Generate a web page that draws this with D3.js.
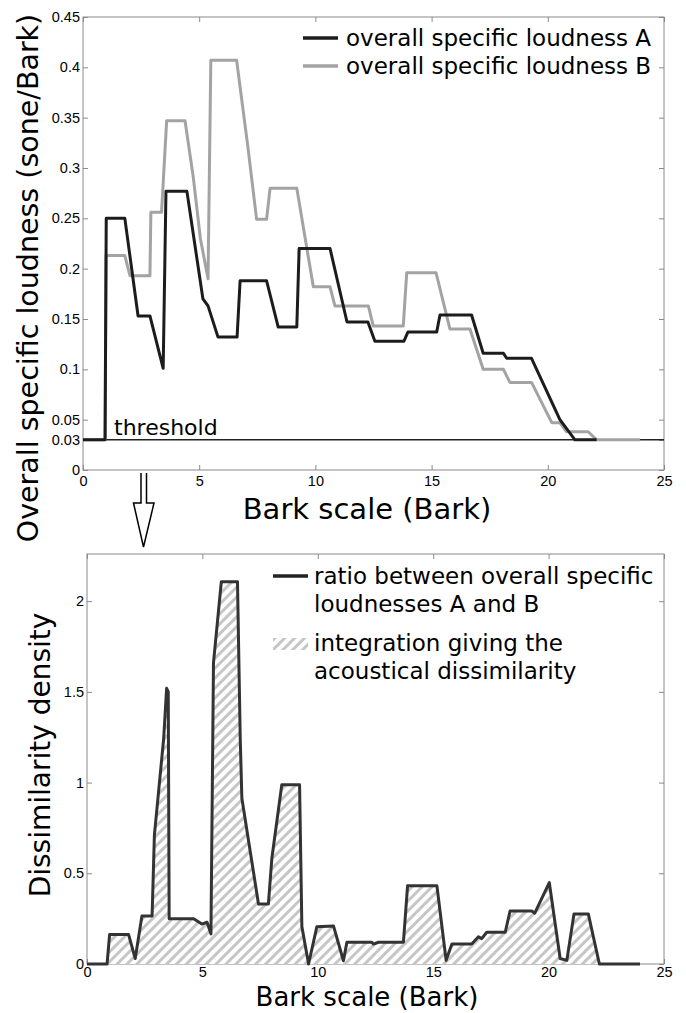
<!DOCTYPE html>
<html>
<head>
<meta charset="utf-8">
<script src="https://cdn.jsdelivr.net/npm/d3@7"></script>
<style>
  body { margin: 0; background: #fff; }
  svg { display: block; }
</style>
</head>
<body>
<div id="chart"></div>
<script>
// overall specific loudness A and B (sone/Bark) against Bark
const barkA = [0, 0.95, 1.0, 1.8, 2.37, 2.88, 3.45, 3.57, 4.47, 5.16, 5.38, 5.81, 6.63, 6.76, 7.9, 8.4, 9.2, 9.3, 10.63, 11.36, 12.26, 12.56, 13.81, 13.98, 15.22, 15.36, 16.72, 17.22, 18.09, 18.23, 19.3, 20.52, 21.17, 22.1];
const loudA = [0.03, 0.03, 0.25, 0.25, 0.153, 0.153, 0.101, 0.277, 0.277, 0.17, 0.163, 0.132, 0.132, 0.188, 0.188, 0.142, 0.142, 0.22, 0.22, 0.147, 0.147, 0.128, 0.128, 0.137, 0.137, 0.154, 0.154, 0.116, 0.116, 0.111, 0.111, 0.05, 0.03, 0.03];

const barkB = [0, 0.95, 0.99, 1.8, 2.02, 2.88, 2.92, 3.38, 3.6, 4.39, 4.75, 5.05, 5.38, 5.5, 6.61, 7.1, 7.47, 7.9, 8.05, 9.2, 9.91, 10.63, 10.84, 12.28, 12.49, 13.78, 13.93, 15.19, 15.79, 16.65, 17.22, 18.09, 18.37, 19.3, 20.17, 20.52, 20.81, 21.74, 22.1, 23.97];
const loudB = [0.03, 0.03, 0.213, 0.213, 0.193, 0.193, 0.256, 0.256, 0.347, 0.347, 0.29, 0.23, 0.19, 0.407, 0.407, 0.32, 0.249, 0.249, 0.28, 0.28, 0.182, 0.182, 0.163, 0.163, 0.143, 0.143, 0.196, 0.196, 0.14, 0.14, 0.1, 0.1, 0.087, 0.087, 0.047, 0.047, 0.038, 0.038, 0.03, 0.03];

const threshold = 0.03;

// dissimilarity density (ratio A/B)
const barkR = [0, 0.87, 0.98, 1.8, 2.09, 2.38, 2.82, 2.92, 3.32, 3.45, 3.52, 3.56, 4.62, 4.98, 5.2, 5.37, 5.48, 5.82, 6.52, 6.64, 6.71, 7.43, 7.86, 8.01, 8.44, 9.21, 9.31, 9.6, 9.96, 10.68, 11.11, 11.26, 12.34, 12.41, 12.63, 13.71, 13.89, 15.16, 15.56, 15.81, 16.67, 16.96, 17.1, 17.32, 18.12, 18.33, 19.27, 19.4, 20.03, 20.5, 20.79, 21.1, 21.72, 22.2, 23.96];
const dens = [0, 0, 0.163, 0.163, 0.03, 0.265, 0.265, 0.71, 1.24, 1.52, 1.5, 0.25, 0.25, 0.22, 0.23, 0.166, 1.66, 2.107, 2.107, 1.24, 0.914, 0.331, 0.331, 0.583, 0.988, 0.988, 0.206, 0, 0.206, 0.21, 0.018, 0.12, 0.12, 0.11, 0.12, 0.12, 0.432, 0.432, 0.02, 0.11, 0.11, 0.15, 0.14, 0.175, 0.175, 0.292, 0.292, 0.28, 0.449, 0.03, 0.02, 0.276, 0.276, 0, 0];

const xTicks = [0, 5, 10, 15, 20, 25];
const yTicksTop = [0, 0.03, 0.05, 0.1, 0.15, 0.2, 0.25, 0.3, 0.35, 0.4, 0.45];
const yTicksBottom = [0, 0.5, 1, 1.5, 2];

const W = 686, H = 1013;
const svg = d3.select("#chart").append("svg")
  .attr("width", W)
  .attr("height", H);

const defs = svg.append("defs");
const pat = defs.append("pattern")
  .attr("id", "hatch")
  .attr("patternUnits", "userSpaceOnUse")
  .attr("width", 7)
  .attr("height", 7)
  .attr("patternTransform", "rotate(45)");
pat.append("rect").attr("width", 7).attr("height", 7).attr("fill", "#fff");
pat.append("rect").attr("width", 3).attr("height", 7).attr("fill", "#c6c6c6");

const tickFont = "'Liberation Sans', Arial, sans-serif";
const labelFont = "'DejaVu Sans', sans-serif";

function frame(g, x, y, yTicks, yFmt, xPad) {
  const [x0, x1] = x.range();
  const [y0, y1] = y.range();
  g.append("rect")
    .attr("x", x0).attr("y", y1)
    .attr("width", x1 - x0).attr("height", y0 - y1)
    .attr("fill", "none").attr("stroke", "#8a8a8a").attr("stroke-width", 1);

  const bottom = g.append("g").attr("transform", "translate(0," + y0 + ")")
    .call(d3.axisBottom(x).tickValues(xTicks).tickSize(-5).tickPadding(xPad));
  const top = g.append("g").attr("transform", "translate(0," + y1 + ")")
    .call(d3.axisTop(x).tickValues(xTicks).tickSize(-5).tickFormat(""));
  const left = g.append("g").attr("transform", "translate(" + x0 + ",0)")
    .call(d3.axisLeft(y).tickValues(yTicks).tickSize(-5).tickPadding(3).tickFormat(yFmt));
  const right = g.append("g").attr("transform", "translate(" + x1 + ",0)")
    .call(d3.axisRight(y).tickValues(yTicks).tickSize(-5).tickFormat(""));

  [bottom, top, left, right].forEach(a => {
    a.select(".domain").remove();
    a.selectAll("line").attr("stroke", "#8a8a8a");
    a.selectAll("text")
      .attr("fill", "#000")
      .style("font-family", tickFont)
      .style("font-size", "14.5px");
  });
}

// ---------- top chart ----------
const xTop = d3.scaleLinear().domain([0, 25]).range([83, 664]);
const yTop = d3.scaleLinear().domain([0, 0.45]).range([470, 17]);
const gTop = svg.append("g");

frame(gTop, xTop, yTop, yTicksTop, d => d === 0 ? "0" : String(d), 6);

gTop.append("line")
  .attr("x1", xTop(0)).attr("x2", xTop(25))
  .attr("y1", yTop(threshold)).attr("y2", yTop(threshold))
  .attr("stroke", "#222").attr("stroke-width", 1.6);

gTop.append("text")
  .attr("x", 114).attr("y", yTop(threshold) - 5)
  .style("font-family", labelFont).style("font-size", "22px")
  .text("threshold");

const lineTop = d3.line().x(d => xTop(d[0])).y(d => yTop(d[1]));

gTop.append("path")
  .datum(d3.zip(barkB, loudB))
  .attr("d", lineTop)
  .attr("fill", "none").attr("stroke", "#a3a3a3").attr("stroke-width", 3)
  .attr("stroke-linejoin", "round");

gTop.append("path")
  .datum(d3.zip(barkA, loudA))
  .attr("d", lineTop)
  .attr("fill", "none").attr("stroke", "#1c1c1c").attr("stroke-width", 3)
  .attr("stroke-linejoin", "round");

// legend
const legTop = gTop.append("g").style("font-family", labelFont).style("font-size", "23px");
[["overall specific loudness A", "#1c1c1c", 38], ["overall specific loudness B", "#a3a3a3", 66]].forEach(l => {
  legTop.append("line").attr("x1", 303).attr("x2", 338).attr("y1", l[2]).attr("y2", l[2])
    .attr("stroke", l[1]).attr("stroke-width", 3.5);
  legTop.append("text").attr("x", 346).attr("y", l[2] + 8).text(l[0]);
});

svg.append("text")
  .attr("x", 367).attr("y", 519)
  .attr("text-anchor", "middle")
  .style("font-family", labelFont).style("font-size", "29px")
  .text("Bark scale (Bark)");

svg.append("text")
  .attr("transform", "translate(38,278) rotate(-90)")
  .attr("text-anchor", "middle")
  .style("font-family", labelFont).style("font-size", "28.5px")
  .text("Overall specific loudness (sone/Bark)");

// arrow between the charts
svg.append("path")
  .attr("d", "M141,473 L141,503 L133.5,503 L143.5,547 L154,503 L146.5,503 L146.5,473")
  .attr("fill", "#fff").attr("stroke", "#000").attr("stroke-width", 1.5)
  .attr("stroke-linejoin", "miter");

// ---------- bottom chart ----------
const xBot = d3.scaleLinear().domain([0, 25]).range([87, 664]);
const yBot = d3.scaleLinear().domain([0, 2.26]).range([964, 554]);
const gBot = svg.append("g");

frame(gBot, xBot, yBot, yTicksBottom, d => String(d), 3);

const ratio = d3.zip(barkR, dens);
gBot.append("path")
  .datum(ratio)
  .attr("d", d3.area().x(d => xBot(d[0])).y0(yBot(0)).y1(d => yBot(d[1])))
  .attr("fill", "url(#hatch)");

gBot.append("path")
  .datum(ratio)
  .attr("d", d3.line().x(d => xBot(d[0])).y(d => yBot(d[1])))
  .attr("fill", "none").attr("stroke", "#333").attr("stroke-width", 3)
  .attr("stroke-linejoin", "round");

const legBot = gBot.append("g").style("font-family", labelFont).style("font-size", "23px");
legBot.append("line").attr("x1", 273).attr("x2", 308).attr("y1", 576).attr("y2", 576)
  .attr("stroke", "#222").attr("stroke-width", 3.5);
legBot.append("text").attr("x", 314).attr("y", 584).text("ratio between overall specific");
legBot.append("text").attr("x", 314).attr("y", 612).text("loudnesses A and B");
legBot.append("rect").attr("x", 273).attr("y", 638).attr("width", 35).attr("height", 12)
  .attr("fill", "url(#hatch)");
legBot.append("text").attr("x", 314).attr("y", 651).text("integration giving the");
legBot.append("text").attr("x", 314).attr("y", 679).text("acoustical dissimilarity");

svg.append("text")
  .attr("x", 367).attr("y", 1006)
  .attr("text-anchor", "middle")
  .style("font-family", labelFont).style("font-size", "26px")
  .text("Bark scale (Bark)");

svg.append("text")
  .attr("transform", "translate(50,755) rotate(-90)")
  .attr("text-anchor", "middle")
  .style("font-family", labelFont).style("font-size", "28px")
  .text("Dissimilarity density");
</script>
</body>
</html>
